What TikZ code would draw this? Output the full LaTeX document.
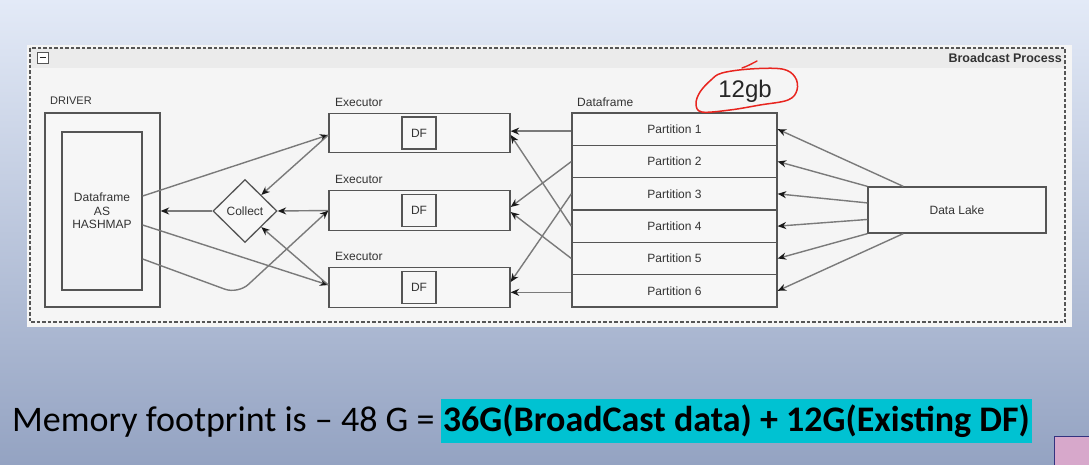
\documentclass[tikz,border=0pt]{standalone}
\usepackage{fontspec}
\setmainfont{Liberation Sans}
\newfontfamily\slidefont{Carlito}
\usepackage{tikz}
\usetikzlibrary{calc,positioning,shapes,arrows.meta}
\definecolor{slidetop}{HTML}{E3EAF7}
\definecolor{slidebot}{HTML}{94A3C2}
\definecolor{panel}{HTML}{F5F5F5}
\definecolor{panelhead}{HTML}{EBEBEB}
\definecolor{edge}{HTML}{555555}
\definecolor{wire}{HTML}{7A7A7A}
\definecolor{hilite}{HTML}{00C2D2}
\definecolor{inkred}{HTML}{E8251F}
\definecolor{pinktab}{HTML}{D7A8CB}
\tikzset{
  >={Stealth[length=8.5pt,width=7pt,color=black!90]},
  box/.style={rectangle, draw=edge, fill=white!97!black, line width=1.3pt, inner sep=0pt,
              text=black!80, font=\fontsize{12}{13.5}\selectfont},
  lbl/.style={inner sep=0pt, text=black!80, font=\fontsize{12}{13.5}\selectfont},
  wire/.style={draw=wire, line width=1.4pt, ->}
}

\begin{document}
\begin{tikzpicture}[x=1pt,y=-1pt]
  % Slide background.
  \shade[top color=slidetop,bottom color=slidebot] (0,0) rectangle (1089,464);
  \useasboundingbox (0,0) rectangle (1089,464);

  % Draw the process panel.
  \fill[panel] (27,45) rectangle (1072,327);
  \fill[panelhead] (30,48) rectangle (1065,68);
  \draw[edge, dash pattern=on 3.5pt off 2pt, line width=1.3pt] (30,48) rectangle (1065,322);
  \node[draw=edge, fill=white, line width=1pt, minimum size=11pt, inner sep=0pt] (fold) at (42.5,57.5) {};
  \draw[line width=1.8pt, black!85] ([xshift=-3pt]fold.center) -- ([xshift=3pt]fold.center);
  \node[lbl, font=\bfseries\fontsize{12.5}{14}\selectfont, anchor=east] (title) at (1062,58) {Broadcast Process};

  % Driver with its hashmap.
  \node[box, minimum width=115pt, minimum height=194pt] (drv) at (102.5,210) {};
  \node[lbl, anchor=west, font=\fontsize{11}{13}\selectfont] (drvlbl) at (50,101) {DRIVER};
  \node[box, minimum width=80pt, minimum height=158pt, align=center] (hmap) at (102,211) {Dataframe\\AS\\HASHMAP};

  % Collect step.
  \node[box, diamond, minimum width=64pt, minimum height=63pt] (col) at (245,211) {Collect};

  % Executors, each holding a DF.
  \foreach \i/\y in {1/133,2/210.5,3/287.5} {
    \node[box, minimum width=181pt, minimum height=39.5pt] (ex\i) at (419.5,\y) {};
    \node[box, minimum width=34pt, minimum height=32pt] (df\i) at (419,\y) {DF};
    \node[lbl, anchor=west] (exlbl\i) at (335,\y-31) {Executor};
  }

  % Dataframe split in partitions.
  \foreach \i in {1,...,6} {
    \node[box, minimum width=205pt, minimum height=32.33pt] (p\i) at (674.5,{113+32.33*(\i-0.5)}) {Partition \i};
  }
  \node[lbl, anchor=west] (dflbl) at (577,102) {Dataframe};

  % Data lake.
  \node[box, minimum width=178pt, minimum height=46pt] (lake) at (957,210) {Data Lake};

  % Hand written size note.
  \node[font=\fontsize{24}{26}\selectfont, text=black!85] (size) at (745,91) {12gb};
  \draw[inkred, line width=1.5pt, line cap=round] plot[smooth cycle, tension=0.6]
    coordinates {(722,73) (750,69) (782,69) (795,77) (797,90) (788,100) (760,105)
                 (730,110) (702,112) (696,104) (700,92) (711,80)};
  \draw[inkred, line width=1.4pt, line cap=round] (742,68) .. controls (748,66) and (753,63) .. (757,61);

  % Data lake feeds every partition.
  \draw[wire] ($(lake.north west)!0.2!(lake.north east)$) -- (p1.east);
  \draw[wire] (lake.north west) -- (p2.east);
  \draw[wire] ($(lake.north west)!0.35!(lake.south west)$) -- (p3.east);
  \draw[wire] ($(lake.north west)!0.7!(lake.south west)$) -- (p4.east);
  \draw[wire] (lake.south west) -- (p5.east);
  \draw[wire] ($(lake.south west)!0.2!(lake.south east)$) -- (p6.east);

  % Partitions to executors.
  \draw[wire] ([yshift=-2pt]p1.west) -- ([yshift=-2pt]p1.west -| ex1.east);
  \draw[wire] (p2.west) -- ([yshift=3.5pt]ex2.east);
  \draw[wire] (p3.west) -- ([yshift=5.5pt]ex3.east);
  \draw[wire] (p4.west) -- ([yshift=-2pt]ex1.east);
  \draw[wire] (p5.west) -- ([yshift=-1.5pt]ex2.east);
  \draw[wire] ([yshift=-1.5pt]p6.west) -- ([yshift=-1.5pt]p6.west -| ex3.east);

  % Driver sends to executors.
  \coordinate (dip) at (238,294);
  \draw[wire] ([yshift=15pt]hmap.east) -- ([yshift=-2pt]ex1.west);
  \draw[wire] ([yshift=-14pt]hmap.east) -- ([yshift=2.5pt]ex3.west);
  \draw[wire, rounded corners=14pt] ([yshift=-48pt]hmap.east) -- (dip) -- (ex2.west);

  % Executors report to collect, collect goes back to driver.
  \draw[wire] ([yshift=-2pt]ex1.west) -- (col.north east);
  \draw[wire] (ex2.west) -- (col.east);
  \draw[wire] ([yshift=2.5pt]ex3.west) -- (col.south east);
  \draw[wire] (col.west) -- (col.west -| drv.east);

  % Memory footprint line.
  \node[anchor=base west, inner sep=0pt, font=\slidefont\fontsize{36}{40}\selectfont] (memo) at (12,431)
    {Memory footprint is – 48 G =};
  \node[anchor=base west, fill=hilite, inner xsep=2pt, minimum height=44pt,
        font=\slidefont\bfseries\fontsize{36}{40}\selectfont] (sum) at ([xshift=6pt]memo.base east)
    {36G(BroadCast data) + 12G(Existing DF)};

  % Corner of the next slide tab.
  \draw[fill=pinktab, draw=black!50!blue!60!gray, line width=1pt] (1054,436) rectangle (1090,465);
\end{tikzpicture}
\end{document}
